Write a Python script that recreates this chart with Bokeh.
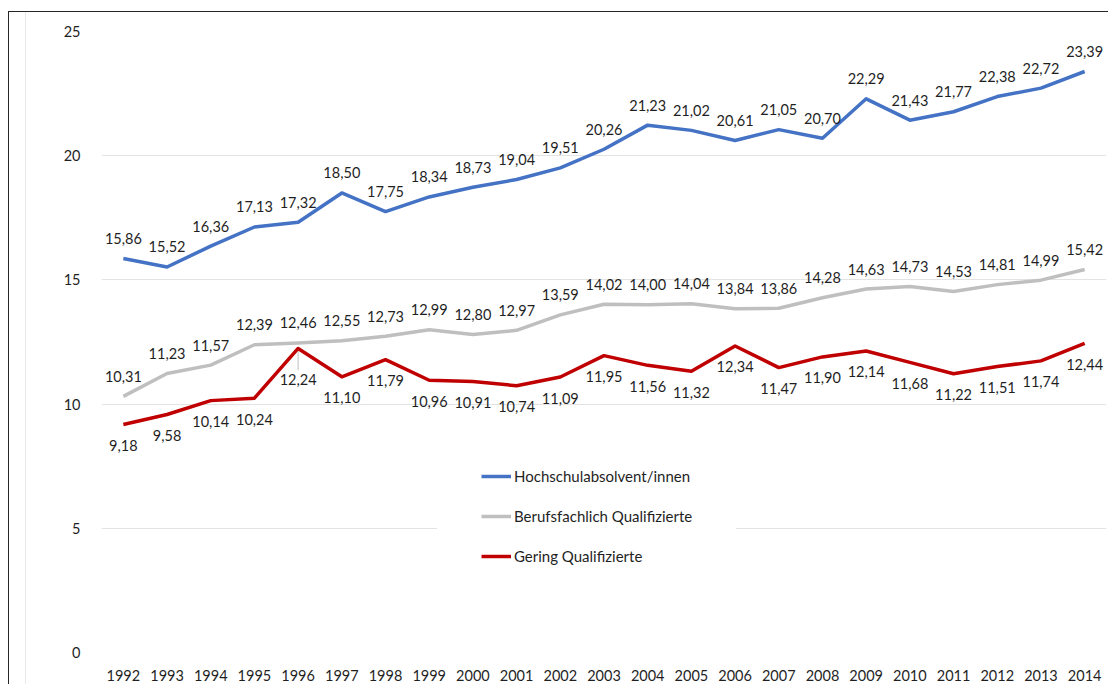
from bokeh.plotting import figure
from bokeh.models import ColumnDataSource, FixedTicker, Range1d, FactorRange, Legend, LegendItem
from bokeh.embed import file_html
from bokeh.resources import INLINE
from bokeh.core.properties import value

years = [str(y) for y in range(1992, 2015)]
hochschul = [15.86, 15.52, 16.36, 17.13, 17.32, 18.50, 17.75, 18.34, 18.73, 19.04, 19.51, 20.26,
             21.23, 21.02, 20.61, 21.05, 20.70, 22.29, 21.43, 21.77, 22.38, 22.72, 23.39]
beruf = [10.31, 11.23, 11.57, 12.39, 12.46, 12.55, 12.73, 12.99, 12.80, 12.97, 13.59, 14.02,
         14.00, 14.04, 13.84, 13.86, 14.28, 14.63, 14.73, 14.53, 14.81, 14.99, 15.42]
gering = [9.18, 9.58, 10.14, 10.24, 12.24, 11.10, 11.79, 10.96, 10.91, 10.74, 11.09, 11.95,
          11.56, 11.32, 12.34, 11.47, 11.90, 12.14, 11.68, 11.22, 11.51, 11.74, 12.44]
names = ["Hochschulabsolvent/innen", "Berufsfachlich Qualifizierte", "Gering Qualifizierte"]
y_ticks = [0, 5, 10, 15, 20, 25]

FONT = "Lato"
TXT = "#1f1f1f"
colors = ["#4472C4", "#BFBFBF", "#C00000"]

p = figure(x_range=FactorRange(*years), y_range=Range1d(0, 25),
           frame_width=1005, frame_height=621,
           min_border_left=92, min_border_right=2, min_border_top=19, min_border_bottom=32,
           output_backend="svg", toolbar_location=None)
p.border_fill_alpha = 0
p.background_fill_color = "white"
p.styles = {"border-top": "1px solid #262626", "border-left": "1px solid #262626",
            "margin-top": "11px", "margin-left": "8px",
            "background-color": "white",
            "background-image": "linear-gradient(to right, transparent 16px, #e8e8e8 16px, "
                                "#e8e8e8 17px, transparent 17px)"}

p.outline_line_color = None
p.xgrid.grid_line_color = None
p.ygrid.grid_line_color = "#e3e3e3"
p.ygrid.grid_line_width = 1
p.yaxis.ticker = FixedTicker(ticks=y_ticks)
for ax in (p.xaxis, p.yaxis):
    ax.axis_line_color = None
    ax.major_tick_line_color = None
    ax.minor_tick_line_color = None
    ax.major_label_text_font = FONT
    ax.major_label_text_font_size = "14.5px"
    ax.major_label_text_color = TXT
p.yaxis.major_label_standoff = 15
p.xaxis.major_label_standoff = 11

# leader line for the 1996 label of the red series
p.segment(x0=[years[4]], y0=[gering[4]], x1=[years[4]], y1=[gering[4] - 0.88],
          line_color="#BFBFBF", line_width=1)

renderers = []
for vals, col in zip([hochschul, beruf, gering], colors):
    r = p.line(x=years, y=vals, line_color=col, line_width=3.5, line_join="round")
    renderers.append(r)


def fmt(v):
    return f"{v:.2f}".replace(".", ",")


# screen offsets (positive = downward)
offsets = [[-20] * len(years), [-20] * len(years), [21] * len(years)]
offsets[2][4] = 31
for vals, offs in zip([hochschul, beruf, gering], offsets):
    src = ColumnDataSource(dict(x=years, y=vals, t=[fmt(v) for v in vals], yo=offs))
    p.text(x="x", y="y", text="t", y_offset="yo", source=src,
           text_font=value(FONT), text_font_size="14.5px", text_color=TXT,
           text_align="center", text_baseline="middle")

legend = Legend(items=[LegendItem(label=n, renderers=[r]) for n, r in zip(names, renderers)],
                location=(336, 42), padding=44, spacing=20, glyph_width=30, glyph_height=20,
                label_height=20, label_standoff=3, margin=0,
                label_text_font=FONT, label_text_font_size="15px", label_text_color=TXT,
                border_line_alpha=0, background_fill_color="white", background_fill_alpha=1)
p.add_layout(legend, "center")

open("out.html", "w").write(file_html(p, INLINE))
